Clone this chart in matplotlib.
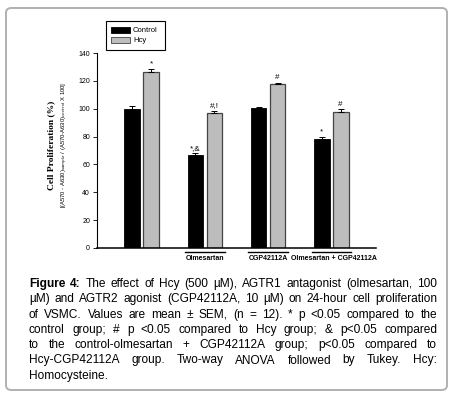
import matplotlib
matplotlib.use("Agg")
import numpy as np
import matplotlib.pyplot as plt
import matplotlib.transforms as mtransforms
from matplotlib.patches import FancyBboxPatch, Rectangle
from matplotlib.lines import Line2D

# data
groups = ["", "Olmesartan", "CGP42112A", "Olmesartan + CGP42112A"]
control = [100.0, 66.5, 100.5, 78.5]
control_err = [2.0, 1.5, 0.5, 1.2]
hcy = [126.5, 97.0, 117.5, 97.5]
hcy_err = [2.0, 1.5, 1.0, 2.0]
control_marks = ["", "*,&", "", "*"]
hcy_marks = ["*", "#,!", "#", "#"]
y_ticks = [0, 20, 40, 60, 80, 100, 120, 140]
legend_labels = ["Control", "Hcy"]

caption_lines = [
    "Figure 4: The effect of Hcy (500 \u00b5M), AGTR1 antagonist (olmesartan, 100",
    "\u00b5M) and AGTR2 agonist (CGP42112A, 10 \u00b5M) on 24-hour cell proliferation",
    "of VSMC. Values are mean \u00b1 SEM, (n = 12). * p <0.05 compared to the",
    "control group; # p <0.05 compared to Hcy group; & p<0.05 compared",
    "to the control-olmesartan + CGP42112A group; p<0.05 compared to",
    "Hcy-CGP42112A group. Two-way ANOVA followed by Tukey. Hcy:",
    "Homocysteine.",
]

W, H = 453, 396
plt.rcParams['font.family'] = ['Liberation Sans', 'DejaVu Sans']

fig = plt.figure(figsize=(W / 100, H / 100), dpi=100)

def fx(px):
    return px / W

def fy(py):
    return 1 - py / H

# rounded frame around the whole figure
frame = FancyBboxPatch((fx(6), fy(390)), fx(441), (390 - 8) / H,
                       boxstyle="round,pad=0,rounding_size=0.012",
                       transform=fig.transFigure, facecolor="none",
                       edgecolor="#b0b0b0", linewidth=1.4)
fig.add_artist(frame)

ax = fig.add_axes([fx(97), fy(248), (376 - 97) / W, (248 - 53) / H])
x = np.arange(len(groups))
off, bw = 0.15, 0.25
ax.bar(x - off, control, bw, color="black", edgecolor="black", linewidth=0.6)
ax.bar(x + off, hcy, bw, color="#bdbdbd", edgecolor="#444444", linewidth=0.9)
ax.errorbar(x - off, control, yerr=[np.zeros(len(x)), control_err], fmt="none",
            ecolor="black", elinewidth=0.7, capsize=2.5, capthick=0.7)
ax.errorbar(x + off, hcy, yerr=[np.zeros(len(x)), hcy_err], fmt="none",
            ecolor="black", elinewidth=0.7, capsize=2.5, capthick=0.7)

for i in range(len(x)):
    if control_marks[i]:
        ax.text(x[i] - off, control[i] + control_err[i] + 1.2, control_marks[i],
                ha="center", va="bottom", fontsize=5.8)
    if hcy_marks[i]:
        ax.text(x[i] + off, hcy[i] + hcy_err[i] + 1.2, hcy_marks[i],
                ha="center", va="bottom", fontsize=5.8)

ax.set_xlim(-0.71, 3.71)
ax.set_ylim(0, 140)
ax.set_yticks(y_ticks)
ax.set_xticks([])
ax.spines["top"].set_visible(False)
ax.spines["right"].set_visible(False)
ax.spines["left"].set_linewidth(0.8)
ax.spines["bottom"].set_linewidth(1.1)
ax.tick_params(axis="y", length=3, width=0.6, labelsize=5, pad=2)

# group labels with bars underneath the axis
trans = mtransforms.blended_transform_factory(ax.transData, ax.transAxes)
for i, g in enumerate(groups):
    if not g:
        continue
    ax.add_line(Line2D([i - 0.31, i + 0.31], [-0.021, -0.021], transform=trans,
                       color="black", linewidth=1.0, clip_on=False))
    ax.text(i + (0.05 if i == 3 else 0), -0.056, g, transform=trans,
            ha="center", va="center", fontsize=5.0, fontweight="bold",
            clip_on=False)

# y labels
fig.text(fx(51), fy(145), "Cell Proliferation (%)", rotation=90, ha="center",
         va="center", fontsize=6.8, fontweight="bold", family="Liberation Serif")
fig.text(fx(65), fy(145),
         "[(A570 - A630)$_{sample}$ / (A570-A630)$_{control}$ X 100]",
         rotation=90, ha="center", va="center", fontsize=4.2)

# legend
fig.add_artist(Rectangle((fx(106), fy(50)), 59 / W, 29 / H, transform=fig.transFigure,
                         facecolor="white", edgecolor="black", linewidth=0.8))
fig.add_artist(Rectangle((fx(111), fy(33)), 19 / W, 6 / H, transform=fig.transFigure,
                         facecolor="black", edgecolor="black", linewidth=0.6))
fig.add_artist(Rectangle((fx(111), fy(43)), 19 / W, 6 / H, transform=fig.transFigure,
                         facecolor="#bdbdbd", edgecolor="#444444", linewidth=0.6))
fig.text(fx(133), fy(30), legend_labels[0], fontsize=5.5, va="center", ha="left")
fig.text(fx(133), fy(40), legend_labels[1], fontsize=5.5, va="center", ha="left")

# justified caption
renderer = fig.canvas.get_renderer()
left, right = 29, 437
y0, dy = 284, 15.3
fs = 8.6
for li, line in enumerate(caption_lines):
    words = line.split(" ")
    texts = []
    for wi, w in enumerate(words):
        bold = (li == 0 and wi < 2)
        t = fig.text(0, fy(y0 + li * dy), w, fontsize=fs, va="center", ha="left",
                     fontweight="bold" if bold else "normal")
        texts.append(t)
    widths = [t.get_window_extent(renderer).width for t in texts]
    if li == len(caption_lines) - 1:
        gap = 3.5
    else:
        gap = (right - left - sum(widths)) / (len(words) - 1)
    pos = left
    for t, wdt in zip(texts, widths):
        t.set_x(fx(pos))
        pos += wdt + gap

fig.savefig("out.png", dpi=100)
